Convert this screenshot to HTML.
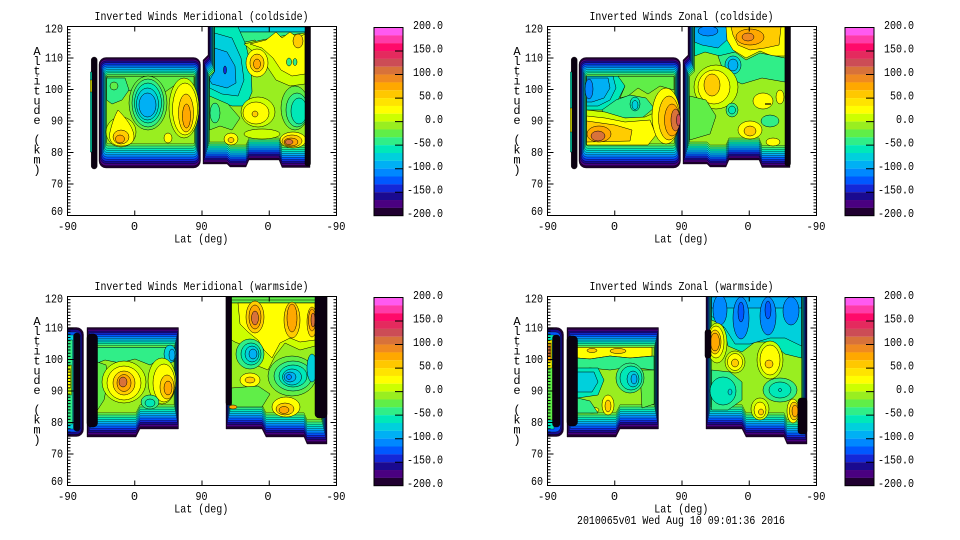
<!DOCTYPE html>
<html><head><meta charset="utf-8"><style>
html,body{margin:0;padding:0;background:#fff;}
svg{display:block;}
.t{font-family:"Liberation Mono",monospace;font-size:12px;fill:#000;}
.st *{stroke:#000;stroke-width:.35;}
.c *{stroke:#000;stroke-width:.5;}
.k0{fill:#200030}.k1{fill:#4a0080}.k2{fill:#1a0a90}.k3{fill:#1428d8}.k4{fill:#0058ff}.k5{fill:#0088ff}.k6{fill:#00b0f4}.k7{fill:#00d0dc}.k8{fill:#00e8b8}.k9{fill:#30ee88}.k10{fill:#60ee48}.k11{fill:#99ee20}.k12{fill:#ccff00}.k13{fill:#ffff00}.k14{fill:#ffcc00}.k15{fill:#ffa800}.k16{fill:#f08a20}.k17{fill:#d8723a}.k18{fill:#cc4c56}.kb{fill:#0a0010}
</style></head><body>
<svg width="960" height="540" viewBox="0 0 960 540" xmlns="http://www.w3.org/2000/svg">
<defs>
<clipPath id="pc"><rect x="67.5" y="26.5" width="269" height="189"/></clipPath>
<g id="sB1" class="st">
<rect class="k0" x="99" y="57.5" width="101.5" height="110.5" rx="7"/>
<rect class="k1" x="99.7" y="59.2" width="100.25" height="106.6" rx="6.5"/>
<rect class="k2" x="100.4" y="60.9" width="99" height="102.7" rx="6"/>
<rect class="k3" x="101.1" y="62.6" width="97.75" height="98.8" rx="5.5"/>
<rect class="k4" x="101.8" y="64.3" width="96.5" height="94.9" rx="5"/>
<rect class="k5" x="102.5" y="66" width="95.25" height="91" rx="4.5"/>
<rect class="k6" x="103.2" y="67.7" width="94" height="87.1" rx="4"/>
<rect class="k7" x="103.9" y="69.4" width="92.75" height="83.2" rx="3.5"/>
<rect class="k8" x="104.6" y="71.1" width="91.5" height="79.3" rx="3"/>
<rect class="k9" x="105.3" y="72.8" width="90.25" height="75.4" rx="2.5"/>
<rect class="k10" x="106" y="74.5" width="89" height="71.5" rx="2"/>
<rect class="k11" x="106.7" y="76.2" width="87.75" height="67.6" rx="1.7"/>
</g>
<g id="sC1" class="st">
<polygon class="k0" points="208,-10 310,-10 310,167.5 282,167.5 279,160 249,160 246,167 230,167 227,164 203,164 203,60 208,55"/>
<polygon class="k1" points="208.6,-10 309.7,-10 309.7,165.5 282,165.5 279,158 249,158 246,165 230,165 227,162 203.6,162 203.6,61.5 208.6,56.5"/>
<polygon class="k2" points="209.2,-10 309.4,-10 309.4,163.5 282,163.5 279,156 249,156 246,163 230,163 227,160 204.2,160 204.2,63 209.2,58"/>
<polygon class="k3" points="209.8,-10 309.1,-10 309.1,161.5 282,161.5 279,154 249,154 246,161 230,161 227,158 204.8,158 204.8,64.5 209.8,59.5"/>
<polygon class="k4" points="210.4,-10 308.8,-10 308.8,159.5 282,159.5 279,152 249,152 246,159 230,159 227,156 205.4,156 205.4,66 210.4,61"/>
<polygon class="k5" points="211,-10 308.5,-10 308.5,157.5 282,157.5 279,150 249,150 246,157 230,157 227,154 206,154 206,67.5 211,62.5"/>
<polygon class="k6" points="211.6,-10 308.2,-10 308.2,155.5 282,155.5 279,148 249,148 246,155 230,155 227,152 206.6,152 206.6,69 211.6,64"/>
<polygon class="k7" points="212.2,-10 307.9,-10 307.9,153.5 282,153.5 279,146 249,146 246,153 230,153 227,150 207.2,150 207.2,70.5 212.2,65.5"/>
<polygon class="k8" points="212.8,-10 307.6,-10 307.6,151.5 282,151.5 279,144 249,144 246,151 230,151 227,148 207.8,148 207.8,72 212.8,67"/>
<polygon class="k9" points="213.4,-10 307.3,-10 307.3,149.5 282,149.5 279,142 249,142 246,149 230,149 227,146 208.4,146 208.4,73.5 213.4,68.5"/>
<polygon class="k10" points="214,-10 307,-10 307,147.5 282,147.5 279,140 249,140 246,147 230,147 227,144 209,144 209,75 214,70"/>
<polygon class="k11" points="214.6,-10 306.7,-10 306.7,145.5 282,145.5 279,138 249,138 246,145 230,145 227,142 209.6,142 209.6,76.5 214.6,71.5"/>
</g>
<g id="sB3" class="st">
<polygon class="k0" points="87,57.5 178.5,57.5 178.5,159 140,159 136,167 87,167"/>
<polygon class="k1" points="87.8,59.3 178.1,59.3 178.1,156.8 140,156.8 136,164.8 87.8,164.8"/>
<polygon class="k2" points="88.6,61.1 177.7,61.1 177.7,154.6 140,154.6 136,162.6 88.6,162.6"/>
<polygon class="k3" points="89.4,62.9 177.3,62.9 177.3,152.4 140,152.4 136,160.4 89.4,160.4"/>
<polygon class="k4" points="90.2,64.7 176.9,64.7 176.9,150.2 140,150.2 136,158.2 90.2,158.2"/>
<polygon class="k5" points="91,66.5 176.5,66.5 176.5,148 140,148 136,156 91,156"/>
<polygon class="k6" points="91.8,68.3 176.1,68.3 176.1,145.8 140,145.8 136,153.8 91.8,153.8"/>
<polygon class="k7" points="92.6,70.1 175.7,70.1 175.7,143.6 140,143.6 136,151.6 92.6,151.6"/>
<polygon class="k8" points="93.4,71.9 175.3,71.9 175.3,141.4 140,141.4 136,149.4 93.4,149.4"/>
<polygon class="k9" points="94.2,73.7 174.9,73.7 174.9,139.2 140,139.2 136,147.2 94.2,147.2"/>
<polygon class="k10" points="95,75.5 174.5,75.5 174.5,137 140,137 136,145 95,145"/>
<polygon class="k11" points="95.8,77.3 174.1,77.3 174.1,134.8 140,134.8 136,142.8 95.8,142.8"/>
</g>
<g id="sC3" class="st">
<polygon class="k0" points="226,-10 327,-10 327,174 307,174 304,167 266,167 262,159 226,159"/>
<polygon class="k1" points="226.5,-10 326.5,-10 326.5,171.8 307,171.8 304,164.8 266,164.8 262,156.8 226.5,156.8"/>
<polygon class="k2" points="227,-10 326,-10 326,169.6 307,169.6 304,162.6 266,162.6 262,154.6 227,154.6"/>
<polygon class="k3" points="227.5,-10 325.5,-10 325.5,167.4 307,167.4 304,160.4 266,160.4 262,152.4 227.5,152.4"/>
<polygon class="k4" points="228,-10 325,-10 325,165.2 307,165.2 304,158.2 266,158.2 262,150.2 228,150.2"/>
<polygon class="k5" points="228.5,-10 324.5,-10 324.5,163 307,163 304,156 266,156 262,148 228.5,148"/>
<polygon class="k6" points="229,-10 324,-10 324,160.8 307,160.8 304,153.8 266,153.8 262,145.8 229,145.8"/>
<polygon class="k7" points="229.5,-10 323.5,-10 323.5,158.6 307,158.6 304,151.6 266,151.6 262,143.6 229.5,143.6"/>
<polygon class="k8" points="230,-10 323,-10 323,156.4 307,156.4 304,149.4 266,149.4 262,141.4 230,141.4"/>
<polygon class="k9" points="230.5,-10 322.5,-10 322.5,154.2 307,154.2 304,147.2 266,147.2 262,139.2 230.5,139.2"/>
<polygon class="k10" points="231,-10 322,-10 322,152 307,152 304,145 266,145 262,137 231,137"/>
<polygon class="k11" points="231.5,-10 321.5,-10 321.5,149.8 307,149.8 304,142.8 266,142.8 262,134.8 231.5,134.8"/>
</g>
<g id="ax">
<rect x="67.5" y="26.5" width="269" height="189" fill="none" stroke="#000"/>
<path d="M67.5,26.5h6M67.5,58h6M67.5,89.5h6M67.5,121h6M67.5,152.5h6M67.5,184h6M67.5,215.5h6M336.5,26.5h-6M336.5,58h-6M336.5,89.5h-6M336.5,121h-6M336.5,152.5h-6M336.5,184h-6M336.5,215.5h-6M134.75,215.5v-5M202,215.5v-5M269.25,215.5v-5M134.75,26.5v5M202,26.5v5M269.25,26.5v5" stroke="#000" fill="none"/>
<line x1="69" y1="26" x2="69" y2="216" stroke="#000" stroke-width="3" stroke-dasharray="1 2.15"/>
<line x1="335" y1="26" x2="335" y2="216" stroke="#000" stroke-width="3" stroke-dasharray="1 2.15"/>
</g>
<g id="cb">
<rect x="0" y="0" width="29" height="7.9" fill="#ff5af0"/>
<rect x="0" y="7.84" width="29" height="7.9" fill="#ff3aa8"/>
<rect x="0" y="15.68" width="29" height="7.9" fill="#ff0a6a"/>
<rect x="0" y="23.53" width="29" height="7.9" fill="#e42a5e"/>
<rect x="0" y="31.37" width="29" height="7.9" fill="#cc4c56"/>
<rect x="0" y="39.21" width="29" height="7.9" fill="#d8723a"/>
<rect x="0" y="47.05" width="29" height="7.9" fill="#f08a20"/>
<rect x="0" y="54.89" width="29" height="7.9" fill="#ffa800"/>
<rect x="0" y="62.74" width="29" height="7.9" fill="#ffc800"/>
<rect x="0" y="70.58" width="29" height="7.9" fill="#ffe400"/>
<rect x="0" y="78.42" width="29" height="7.9" fill="#ffff00"/>
<rect x="0" y="86.26" width="29" height="7.9" fill="#ccff00"/>
<rect x="0" y="94.1" width="29" height="7.9" fill="#99ee20"/>
<rect x="0" y="101.95" width="29" height="7.9" fill="#60ee48"/>
<rect x="0" y="109.79" width="29" height="7.9" fill="#30ee88"/>
<rect x="0" y="117.63" width="29" height="7.9" fill="#00e8b8"/>
<rect x="0" y="125.47" width="29" height="7.9" fill="#00d0dc"/>
<rect x="0" y="133.31" width="29" height="7.9" fill="#00b0f4"/>
<rect x="0" y="141.16" width="29" height="7.9" fill="#0088ff"/>
<rect x="0" y="149" width="29" height="7.9" fill="#0058ff"/>
<rect x="0" y="156.84" width="29" height="7.9" fill="#1428d8"/>
<rect x="0" y="164.68" width="29" height="7.9" fill="#1a0a90"/>
<rect x="0" y="172.52" width="29" height="7.9" fill="#4a0080"/>
<rect x="0" y="180.37" width="29" height="7.83" fill="#200030"/>
<rect x="0" y="0" width="29" height="188.2" fill="none" stroke="#000"/>
<path d="M21,23.5h8M21,47.05h8M21,70.6h8M21,94.1h8M21,117.6h8M21,141.2h8M21,164.7h8" stroke="#000"/>
</g>
</defs>

<!-- ============ PANEL 1 ============ -->
<g>
<g clip-path="url(#pc)">
<g class="st"><rect x="91.2" y="57" width="6" height="112" rx="3" class="kb"/><rect class="k8" x="90.3" y="72" width="1.6" height="80"/><rect class="k13" x="90.3" y="80" width="1.6" height="12"/></g>
<use href="#sB1"/>
<g class="c">
<path class="k10" d="M107,76.2 L194,76.2 L194,88 L175,85 L165,92 L150,80 L135,90 L120,92 L107,95Z"/>
<path class="k9" d="M106.7,78 L125,78 L129,90 L122,100 L112,104 L106.7,100Z"/>
<ellipse class="k10" cx="114" cy="86" rx="4" ry="4"/>
<ellipse class="k10" cx="148" cy="103" rx="19" ry="27"/>
<ellipse class="k9" cx="148" cy="103" rx="16" ry="24"/>
<ellipse class="k8" cx="148" cy="103" rx="13.5" ry="20"/>
<ellipse class="k7" cx="147.5" cy="104" rx="11" ry="16"/>
<ellipse class="k6" cx="147.5" cy="105" rx="8.5" ry="12"/>
<ellipse class="k12" cx="184" cy="108" rx="15" ry="30"/>
<ellipse class="k13" cx="185" cy="109" rx="12.5" ry="26"/>
<ellipse class="k14" cx="186" cy="113" rx="7.5" ry="19"/>
<ellipse class="k15" cx="186.5" cy="116" rx="4" ry="12"/>
<ellipse class="k12" cx="121" cy="132" rx="15" ry="15"/>
<path class="k13" d="M118,110 C125,117 134,128 134,137 C134,144 127,146 121,146 C113,146 108,141 110,132 C112,123 115,115 118,110Z"/>
<ellipse class="k14" cx="121" cy="137" rx="8" ry="7"/>
<ellipse class="k15" cx="120" cy="139" rx="4.5" ry="4"/>
<ellipse class="k13" cx="168" cy="138" rx="4" ry="5"/>
</g>
<use href="#sC1"/>
<g class="c">
<rect class="k7" x="214.6" y="27" width="91" height="5"/>
<path class="k9" d="M214.6,32 L305,32 L305,38 L295,40 L290,50 L284,40 L270,42 L262,50 L255,40 L245,42 L240,50 L230,45 L214.6,45Z"/>
<path class="k8" d="M214.6,27 L238,27 L246,45 L251,68 L252,92 L246,106 L232,106 L216,100 L209.6,96 L209.6,76.5 L214.6,71.5Z"/>
<path class="k7" d="M214.6,33 L232,38 L241,58 L244,80 L238,96 L222,94 L209.6,88 L209.6,76.5 L214.6,71.5Z"/>
<path class="k6" d="M214.6,48 L227,52 L235,66 L236,83 L227,88 L212,84 L209.6,80 L214.6,71.5Z"/>
<ellipse class="k3" cx="225" cy="70" rx="1.5" ry="4"/>
<path class="k12" d="M244,44 L262,40 L282,36 L305,33 L305,84 L290,86 L276,80 L268,68 L256,54Z"/>
<path class="k13" d="M250,44 L266,40 L276,32 L282,38 L290,32 L298,38 L305,34 L305,74 L292,76 L281,70 L273,58 L262,48Z"/>
<ellipse class="k13" cx="257" cy="63" rx="11" ry="14"/>
<ellipse class="k14" cx="257" cy="63" rx="7" ry="9"/>
<ellipse class="k15" cx="257" cy="64" rx="3.5" ry="5"/>
<ellipse class="k14" cx="298" cy="41" rx="5" ry="7"/>
<ellipse class="k9" cx="289" cy="62" rx="2.5" ry="4"/>
<ellipse class="k9" cx="295" cy="62" rx="2" ry="3.5"/>
<ellipse class="k10" cx="295" cy="108" rx="14" ry="22"/>
<ellipse class="k9" cx="297" cy="110" rx="11" ry="17"/>
<ellipse class="k8" cx="299" cy="111" rx="8" ry="13"/>
<ellipse class="k12" cx="258" cy="112" rx="17" ry="15"/>
<ellipse class="k13" cx="256" cy="113" rx="13" ry="11"/>
<ellipse class="k14" cx="255" cy="114" rx="3" ry="3"/>
<path class="k10" d="M209.6,96 L228,104 L240,118 L232,130 L220,126 L209.6,130Z"/>
<ellipse class="k9" cx="215" cy="113" rx="5" ry="10"/>
<ellipse class="k12" cx="262" cy="134" rx="18" ry="5"/>
<ellipse class="k13" cx="231" cy="139" rx="7" ry="6"/>
<ellipse class="k14" cx="231" cy="140" rx="3" ry="2.5"/>
<ellipse class="k13" cx="293" cy="140" rx="13" ry="8"/>
<ellipse class="k14" cx="292" cy="141" rx="10" ry="6"/>
<ellipse class="k15" cx="291" cy="142" rx="7" ry="4"/>
<ellipse class="k17" cx="289" cy="142" rx="4" ry="2.5"/>
<rect class="kb" x="305" y="20" width="5.5" height="146" rx="2.5"/>
</g>
</g>
<use href="#ax"/>
<use href="#cb" x="374" y="27.5"/>
<text class="t" x="201.5" y="20" text-anchor="middle" textLength="214" lengthAdjust="spacingAndGlyphs">Inverted Winds Meridional (coldside)</text>
<text class="t" x="63" y="32.7" text-anchor="end" textLength="18" lengthAdjust="spacingAndGlyphs">120</text>
<text class="t" x="63" y="61.7" text-anchor="end" textLength="18" lengthAdjust="spacingAndGlyphs">110</text>
<text class="t" x="63" y="93" text-anchor="end" textLength="18" lengthAdjust="spacingAndGlyphs">100</text>
<text class="t" x="63" y="124.5" text-anchor="end" textLength="12" lengthAdjust="spacingAndGlyphs">90</text>
<text class="t" x="63" y="156" text-anchor="end" textLength="12" lengthAdjust="spacingAndGlyphs">80</text>
<text class="t" x="63" y="187.3" text-anchor="end" textLength="12" lengthAdjust="spacingAndGlyphs">70</text>
<text class="t" x="63" y="215" text-anchor="end" textLength="12" lengthAdjust="spacingAndGlyphs">60</text>
<text class="t" x="67.5" y="230" text-anchor="middle" textLength="19" lengthAdjust="spacingAndGlyphs">-90</text>
<text class="t" x="134.5" y="230" text-anchor="middle">0</text>
<text class="t" x="201.5" y="230" text-anchor="middle" textLength="12" lengthAdjust="spacingAndGlyphs">90</text>
<text class="t" x="268" y="230" text-anchor="middle">0</text>
<text class="t" x="336" y="230" text-anchor="middle" textLength="19" lengthAdjust="spacingAndGlyphs">-90</text>
<text class="t" x="201.3" y="242.5" text-anchor="middle" textLength="54" lengthAdjust="spacingAndGlyphs">Lat (deg)</text>
<text class="t" x="37" y="55" text-anchor="middle">A</text><text class="t" x="37" y="64.9" text-anchor="middle">l</text><text class="t" x="37" y="74.7" text-anchor="middle">t</text><text class="t" x="37" y="84.6" text-anchor="middle">i</text><text class="t" x="37" y="94.4" text-anchor="middle">t</text><text class="t" x="37" y="104.3" text-anchor="middle">u</text><text class="t" x="37" y="114.2" text-anchor="middle">d</text><text class="t" x="37" y="124" text-anchor="middle">e</text><text class="t" x="37" y="143.7" text-anchor="middle">(</text><text class="t" x="37" y="153.6" text-anchor="middle">k</text><text class="t" x="37" y="163.5" text-anchor="middle">m</text><text class="t" x="37" y="173.3" text-anchor="middle">)</text>
<text class="t" x="443" y="29" text-anchor="end" textLength="30" lengthAdjust="spacingAndGlyphs">200.0</text>
<text class="t" x="443" y="52.5" text-anchor="end" textLength="30" lengthAdjust="spacingAndGlyphs">150.0</text>
<text class="t" x="443" y="76" text-anchor="end" textLength="30" lengthAdjust="spacingAndGlyphs">100.0</text>
<text class="t" x="443" y="99.6" text-anchor="end" textLength="24" lengthAdjust="spacingAndGlyphs">50.0</text>
<text class="t" x="443" y="123.1" text-anchor="end" textLength="18" lengthAdjust="spacingAndGlyphs">0.0</text>
<text class="t" x="443" y="146.6" text-anchor="end" textLength="30" lengthAdjust="spacingAndGlyphs">-50.0</text>
<text class="t" x="443" y="170.2" text-anchor="end" textLength="36" lengthAdjust="spacingAndGlyphs">-100.0</text>
<text class="t" x="443" y="193.7" text-anchor="end" textLength="36" lengthAdjust="spacingAndGlyphs">-150.0</text>
<text class="t" x="443" y="217.2" text-anchor="end" textLength="36" lengthAdjust="spacingAndGlyphs">-200.0</text>
</g>

<!-- ============ PANEL 2 ============ -->
<g transform="translate(480,0)">
<g clip-path="url(#pc)">
<g class="st"><rect x="91.2" y="57" width="6" height="112" rx="3" class="kb"/><rect class="k8" x="90.3" y="72" width="1.6" height="80"/><rect class="k13" x="90.3" y="108" width="1.6" height="24"/></g>
<use href="#sB1"/>
<g class="c">
<path class="k8" d="M106.7,76.2 L140,76.2 L145,86 L138,100 L125,110 L106.7,110Z"/>
<path class="k7" d="M106.7,76.2 L133,76.2 L136,88 L130,100 L118,106 L106.7,106Z"/>
<path class="k6" d="M106.7,78 L128,78 L130,88 L124,98 L112,102 L106.7,102Z"/>
<ellipse class="k5" cx="109" cy="89" rx="4" ry="10"/>
<path class="k10" d="M138,76.2 L194,76.2 L194,90 L180,86 L168,94 L158,88 L148,96 L140,98 L145,86Z"/>
<path class="k9" d="M122,110 L136,100 L150,95 L166,98 L174,108 L162,118 L142,118 L126,118Z"/>
<ellipse class="k8" cx="155" cy="104" rx="5" ry="7"/>
<ellipse class="k7" cx="155" cy="105" rx="3" ry="4.5"/>
<path class="k12" d="M106.7,110 L125,112 L145,118 L165,117 L176,112 L178,125 L106.7,125Z"/>
<path class="k13" d="M106.7,116 L125,118 L145,122 L170,120 L176,135 L168,145 L106.7,145Z"/>
<path class="k14" d="M106.7,121 L135,125 L152,130 L150,141 L106.7,142Z"/>
<ellipse class="k15" cx="119" cy="134" rx="12" ry="8"/>
<ellipse class="k17" cx="118" cy="136" rx="7" ry="5"/>
<ellipse class="k13" cx="186" cy="116" rx="14" ry="28"/>
<ellipse class="k14" cx="189" cy="118" rx="10.5" ry="22"/>
<ellipse class="k15" cx="192" cy="120" rx="7.5" ry="16"/>
<ellipse class="k17" cx="195.5" cy="120" rx="4.5" ry="11"/>
<ellipse class="k18" cx="198.5" cy="120" rx="2" ry="6"/>
</g>
<use href="#sC1"/>
<g class="c">
<path class="k8" d="M214.6,27 L252,27 L262,40 L255,52 L240,56 L225,52 L214.6,56Z"/>
<path class="k6" d="M214.6,27 L246,27 L249,38 L238,48 L222,45 L214.6,42Z"/>
<ellipse class="k5" cx="228" cy="31" rx="10" ry="5"/>
<path class="k13" d="M246,27 L305,27 L305,56 L292,56 L280,51 L266,58 L253,50 L247,40Z"/>
<path class="k14" d="M251,27 L301,27 L299,45 L285,48 L270,50 L258,45 L253,35Z"/>
<ellipse class="k15" cx="270" cy="37" rx="14" ry="8"/>
<ellipse class="k16" cx="268" cy="37" rx="6" ry="4"/>
<path class="k9" d="M238,56 L255,52 L266,60 L280,53 L305,58 L305,82 L282,78 L262,84 L245,76Z"/>
<ellipse class="k7" cx="253" cy="65" rx="8" ry="9"/>
<ellipse class="k6" cx="253" cy="65" rx="5" ry="6"/>
<ellipse class="k12" cx="236" cy="87" rx="22" ry="22"/>
<ellipse class="k13" cx="234" cy="87" rx="16" ry="17"/>
<ellipse class="k14" cx="232" cy="85" rx="8" ry="11"/>
<ellipse class="k9" cx="252" cy="110" rx="6" ry="7"/>
<ellipse class="k8" cx="252" cy="110" rx="3.5" ry="4"/>
<ellipse class="k13" cx="283" cy="101" rx="10" ry="8"/>
<ellipse class="k13" cx="300" cy="97" rx="4" ry="7"/>
<path d="M285,104 h6" fill="none" style="stroke-width:1.2"/>
<path class="k10" d="M209.6,96 L226,100 L236,116 L230,134 L209.6,140Z"/>
<ellipse class="k9" cx="290" cy="121" rx="9" ry="6"/>
<ellipse class="k13" cx="270" cy="130" rx="12" ry="9"/>
<ellipse class="k14" cx="270" cy="131" rx="6" ry="5"/>
<ellipse class="k13" cx="293" cy="142" rx="7" ry="4"/>
<rect class="kb" x="305" y="20" width="5.5" height="146" rx="2.5"/>
</g>
</g>
<use href="#ax"/>
<use href="#cb" x="365" y="27.5"/>
<text class="t" x="201.5" y="20" text-anchor="middle" textLength="184" lengthAdjust="spacingAndGlyphs">Inverted Winds Zonal (coldside)</text>
<text class="t" x="63" y="32.7" text-anchor="end" textLength="18" lengthAdjust="spacingAndGlyphs">120</text>
<text class="t" x="63" y="61.7" text-anchor="end" textLength="18" lengthAdjust="spacingAndGlyphs">110</text>
<text class="t" x="63" y="93" text-anchor="end" textLength="18" lengthAdjust="spacingAndGlyphs">100</text>
<text class="t" x="63" y="124.5" text-anchor="end" textLength="12" lengthAdjust="spacingAndGlyphs">90</text>
<text class="t" x="63" y="156" text-anchor="end" textLength="12" lengthAdjust="spacingAndGlyphs">80</text>
<text class="t" x="63" y="187.3" text-anchor="end" textLength="12" lengthAdjust="spacingAndGlyphs">70</text>
<text class="t" x="63" y="215" text-anchor="end" textLength="12" lengthAdjust="spacingAndGlyphs">60</text>
<text class="t" x="67.5" y="230" text-anchor="middle" textLength="19" lengthAdjust="spacingAndGlyphs">-90</text>
<text class="t" x="134.5" y="230" text-anchor="middle">0</text>
<text class="t" x="201.5" y="230" text-anchor="middle" textLength="12" lengthAdjust="spacingAndGlyphs">90</text>
<text class="t" x="268" y="230" text-anchor="middle">0</text>
<text class="t" x="336" y="230" text-anchor="middle" textLength="19" lengthAdjust="spacingAndGlyphs">-90</text>
<text class="t" x="201.3" y="242.5" text-anchor="middle" textLength="54" lengthAdjust="spacingAndGlyphs">Lat (deg)</text>
<text class="t" x="37" y="55" text-anchor="middle">A</text><text class="t" x="37" y="64.9" text-anchor="middle">l</text><text class="t" x="37" y="74.7" text-anchor="middle">t</text><text class="t" x="37" y="84.6" text-anchor="middle">i</text><text class="t" x="37" y="94.4" text-anchor="middle">t</text><text class="t" x="37" y="104.3" text-anchor="middle">u</text><text class="t" x="37" y="114.2" text-anchor="middle">d</text><text class="t" x="37" y="124" text-anchor="middle">e</text><text class="t" x="37" y="143.7" text-anchor="middle">(</text><text class="t" x="37" y="153.6" text-anchor="middle">k</text><text class="t" x="37" y="163.5" text-anchor="middle">m</text><text class="t" x="37" y="173.3" text-anchor="middle">)</text>
<text class="t" x="434" y="29" text-anchor="end" textLength="30" lengthAdjust="spacingAndGlyphs">200.0</text>
<text class="t" x="434" y="52.5" text-anchor="end" textLength="30" lengthAdjust="spacingAndGlyphs">150.0</text>
<text class="t" x="434" y="76" text-anchor="end" textLength="30" lengthAdjust="spacingAndGlyphs">100.0</text>
<text class="t" x="434" y="99.6" text-anchor="end" textLength="24" lengthAdjust="spacingAndGlyphs">50.0</text>
<text class="t" x="434" y="123.1" text-anchor="end" textLength="18" lengthAdjust="spacingAndGlyphs">0.0</text>
<text class="t" x="434" y="146.6" text-anchor="end" textLength="30" lengthAdjust="spacingAndGlyphs">-50.0</text>
<text class="t" x="434" y="170.2" text-anchor="end" textLength="36" lengthAdjust="spacingAndGlyphs">-100.0</text>
<text class="t" x="434" y="193.7" text-anchor="end" textLength="36" lengthAdjust="spacingAndGlyphs">-150.0</text>
<text class="t" x="434" y="217.2" text-anchor="end" textLength="36" lengthAdjust="spacingAndGlyphs">-200.0</text>
</g>

<!-- ============ PANEL 3 ============ -->
<g transform="translate(0,270)">
<g clip-path="url(#pc)">
<g class="st">
<rect class="k0" x="60" y="57.5" width="23.5" height="109" rx="7"/>
<rect class="k2" x="60" y="59.5" width="22" height="105" rx="6"/>
<rect class="k4" x="60" y="62" width="20.5" height="100" rx="5"/>
<rect class="k7" x="60" y="65" width="14" height="94"/>
<rect class="k9" x="60" y="70" width="12.5" height="84"/>
<rect class="k12" x="60" y="95" width="11.5" height="30"/>
<rect class="k13" x="60" y="100" width="10.5" height="18"/>
<rect class="kb" x="73.5" y="63" width="6.5" height="98" rx="3"/>
</g>
<use href="#sB3"/>
<g class="c">
<rect class="kb" x="87" y="64" width="10.5" height="93" rx="4"/>
<path class="k9" d="M97.5,77.3 L174.1,77.3 L174.1,92 L160,89 L150,95 L135,89 L120,93 L105,90 L97.5,93Z"/>
<ellipse class="k7" cx="170" cy="84" rx="6" ry="9"/>
<ellipse class="k6" cx="172" cy="85" rx="3" ry="6"/>
<path class="k10" d="M97.5,92 L106,95 L108,110 L104,130 L97.5,140Z"/>
<ellipse class="k12" cx="124" cy="112" rx="22" ry="21"/>
<ellipse class="k13" cx="124" cy="113" rx="17" ry="17"/>
<ellipse class="k14" cx="124" cy="113" rx="11" ry="12"/>
<ellipse class="k15" cx="124" cy="113" rx="7" ry="8.5"/>
<ellipse class="k17" cx="123" cy="112" rx="4" ry="5"/>
<ellipse class="k12" cx="162" cy="111" rx="14" ry="23"/>
<ellipse class="k13" cx="164" cy="113" rx="11" ry="19"/>
<ellipse class="k14" cx="167" cy="117" rx="7" ry="12"/>
<ellipse class="k15" cx="168" cy="118" rx="4" ry="7"/>
<ellipse class="k9" cx="150" cy="132" rx="9" ry="7"/>
<ellipse class="k8" cx="150" cy="133" rx="5" ry="4"/>
</g>
<use href="#sC3"/>
<g class="c">
<rect class="k10" x="231.5" y="27" width="84" height="6"/>
<path d="M231,30 H315" fill="none"/>
<path class="k12" d="M231.5,33 L315,33 L315,76 L300,80 L285,73 L275,86 L268,100 L258,96 L245,76 L235,72 L231.5,70Z"/>
<path class="k13" d="M238,33 L315,33 L315,70 L300,72 L290,68 L280,73 L272,88 L264,80 L258,70 L248,62 L240,54Z"/>
<ellipse class="k14" cx="255" cy="47" rx="9" ry="16"/>
<ellipse class="k15" cx="255" cy="47" rx="6" ry="12"/>
<ellipse class="k17" cx="255" cy="48" rx="3.5" ry="7"/>
<ellipse class="k14" cx="292" cy="50" rx="8" ry="18"/>
<ellipse class="k15" cx="292" cy="48" rx="5" ry="14"/>
<ellipse class="k14" cx="312" cy="52" rx="5" ry="15"/>
<ellipse class="k15" cx="312" cy="50" rx="3.5" ry="11"/>
<ellipse class="k17" cx="313" cy="50" rx="2" ry="7"/>
<ellipse class="k9" cx="250" cy="84" rx="14" ry="15"/>
<ellipse class="k8" cx="251" cy="84" rx="10" ry="11"/>
<ellipse class="k7" cx="252" cy="84" rx="7" ry="8"/>
<ellipse class="k6" cx="253" cy="84" rx="4" ry="5"/>
<ellipse class="k13" cx="250" cy="110" rx="10" ry="7"/>
<ellipse class="k14" cx="250" cy="110" rx="5" ry="3"/>
<ellipse class="k10" cx="292" cy="106" rx="24" ry="20"/>
<ellipse class="k9" cx="293" cy="106" rx="19" ry="15"/>
<ellipse class="k8" cx="293" cy="106" rx="14" ry="11"/>
<ellipse class="k7" cx="292" cy="107" rx="9.5" ry="8"/>
<ellipse class="k6" cx="290" cy="107" rx="6" ry="5"/>
<ellipse class="k5" cx="289" cy="107" rx="2.5" ry="2.5"/>
<ellipse class="k7" cx="312" cy="98" rx="5" ry="14"/>
<path class="k10" d="M231.5,118 L258,116 L270,124 L262,137 L231.5,137Z"/>
<ellipse class="k13" cx="286" cy="137" rx="14" ry="10"/>
<ellipse class="k14" cx="285" cy="139" rx="9" ry="6"/>
<ellipse class="k15" cx="284" cy="140" rx="5" ry="3.5"/>
<rect class="kb" x="226" y="20" width="5.5" height="115" rx="2"/>
<ellipse class="k15" cx="233" cy="137" rx="4" ry="2"/>
<rect class="kb" x="315" y="20" width="12" height="128" rx="4"/>
</g>
</g>
<use href="#ax"/>
<use href="#cb" x="374" y="27.5"/>
<text class="t" x="201.5" y="20" text-anchor="middle" textLength="214" lengthAdjust="spacingAndGlyphs">Inverted Winds Meridional (warmside)</text>
<text class="t" x="63" y="32.7" text-anchor="end" textLength="18" lengthAdjust="spacingAndGlyphs">120</text>
<text class="t" x="63" y="61.7" text-anchor="end" textLength="18" lengthAdjust="spacingAndGlyphs">110</text>
<text class="t" x="63" y="93" text-anchor="end" textLength="18" lengthAdjust="spacingAndGlyphs">100</text>
<text class="t" x="63" y="124.5" text-anchor="end" textLength="12" lengthAdjust="spacingAndGlyphs">90</text>
<text class="t" x="63" y="156" text-anchor="end" textLength="12" lengthAdjust="spacingAndGlyphs">80</text>
<text class="t" x="63" y="187.3" text-anchor="end" textLength="12" lengthAdjust="spacingAndGlyphs">70</text>
<text class="t" x="63" y="215" text-anchor="end" textLength="12" lengthAdjust="spacingAndGlyphs">60</text>
<text class="t" x="67.5" y="230" text-anchor="middle" textLength="19" lengthAdjust="spacingAndGlyphs">-90</text>
<text class="t" x="134.5" y="230" text-anchor="middle">0</text>
<text class="t" x="201.5" y="230" text-anchor="middle" textLength="12" lengthAdjust="spacingAndGlyphs">90</text>
<text class="t" x="268" y="230" text-anchor="middle">0</text>
<text class="t" x="336" y="230" text-anchor="middle" textLength="19" lengthAdjust="spacingAndGlyphs">-90</text>
<text class="t" x="201.3" y="242.5" text-anchor="middle" textLength="54" lengthAdjust="spacingAndGlyphs">Lat (deg)</text>
<text class="t" x="37" y="55" text-anchor="middle">A</text><text class="t" x="37" y="64.9" text-anchor="middle">l</text><text class="t" x="37" y="74.7" text-anchor="middle">t</text><text class="t" x="37" y="84.6" text-anchor="middle">i</text><text class="t" x="37" y="94.4" text-anchor="middle">t</text><text class="t" x="37" y="104.3" text-anchor="middle">u</text><text class="t" x="37" y="114.2" text-anchor="middle">d</text><text class="t" x="37" y="124" text-anchor="middle">e</text><text class="t" x="37" y="143.7" text-anchor="middle">(</text><text class="t" x="37" y="153.6" text-anchor="middle">k</text><text class="t" x="37" y="163.5" text-anchor="middle">m</text><text class="t" x="37" y="173.3" text-anchor="middle">)</text>
<text class="t" x="443" y="29" text-anchor="end" textLength="30" lengthAdjust="spacingAndGlyphs">200.0</text>
<text class="t" x="443" y="52.5" text-anchor="end" textLength="30" lengthAdjust="spacingAndGlyphs">150.0</text>
<text class="t" x="443" y="76" text-anchor="end" textLength="30" lengthAdjust="spacingAndGlyphs">100.0</text>
<text class="t" x="443" y="99.6" text-anchor="end" textLength="24" lengthAdjust="spacingAndGlyphs">50.0</text>
<text class="t" x="443" y="123.1" text-anchor="end" textLength="18" lengthAdjust="spacingAndGlyphs">0.0</text>
<text class="t" x="443" y="146.6" text-anchor="end" textLength="30" lengthAdjust="spacingAndGlyphs">-50.0</text>
<text class="t" x="443" y="170.2" text-anchor="end" textLength="36" lengthAdjust="spacingAndGlyphs">-100.0</text>
<text class="t" x="443" y="193.7" text-anchor="end" textLength="36" lengthAdjust="spacingAndGlyphs">-150.0</text>
<text class="t" x="443" y="217.2" text-anchor="end" textLength="36" lengthAdjust="spacingAndGlyphs">-200.0</text>
</g>

<!-- ============ PANEL 4 ============ -->
<g transform="translate(480,270)">
<g clip-path="url(#pc)">
<g class="st">
<rect class="k0" x="60" y="57.5" width="23.5" height="109" rx="7"/>
<rect class="k2" x="60" y="59.5" width="22" height="105" rx="6"/>
<rect class="k4" x="60" y="62" width="20.5" height="100" rx="5"/>
<rect class="k8" x="60" y="65" width="14" height="94"/>
<rect class="k10" x="60" y="95" width="12.5" height="55"/>
<rect class="k13" x="60" y="70" width="12" height="28"/>
<rect class="k15" x="60" y="73" width="11" height="18"/>
<rect class="k17" x="60" y="76" width="10" height="10"/>
<rect class="kb" x="72.5" y="65" width="7.5" height="92" rx="3"/>
</g>
<use href="#sB3"/>
<g class="c">
<rect class="kb" x="87" y="66" width="10.5" height="90" rx="4"/>
<path class="k13" d="M97.5,77.3 L172,77.3 L172,86 L150,88 L130,86 L110,89 L97.5,88Z"/>
<ellipse class="k14" cx="138" cy="81" rx="8" ry="2.5"/>
<ellipse class="k14" cx="112" cy="80.5" rx="5" ry="2"/>
<path class="k9" d="M97.5,88 L110,89 L130,86 L150,88 L174,86 L174,100 L150,97 L130,100 L110,98 L97.5,100Z"/>
<path class="k8" d="M97.5,98 L118,98 L124,110 L118,125 L97.5,128Z"/>
<path class="k7" d="M97.5,102 L114,102 L118,112 L112,122 L97.5,122Z"/>
<path class="k10" d="M160,100 L174.1,100 L174.1,134 L162,138Z"/>
<ellipse class="k9" cx="150" cy="108" rx="14" ry="15"/>
<ellipse class="k8" cx="151" cy="108" rx="11" ry="12"/>
<ellipse class="k7" cx="153" cy="109" rx="6" ry="8"/>
<ellipse class="k6" cx="154" cy="109" rx="3" ry="5"/>
<ellipse class="k13" cx="128" cy="135" rx="6" ry="10"/>
<ellipse class="k14" cx="128" cy="136" rx="3" ry="6"/>
<ellipse class="k13" cx="112" cy="140" rx="7" ry="3"/>
<path class="k9" d="M97.5,128 L110,131 L118,143 L97.5,143Z"/>
</g>
<use href="#sC3"/>
<g class="c">
<path class="k8" d="M231.5,27 L321.5,27 L321.5,88 L305,84 L290,72 L275,72 L262,82 L248,76 L243,55 L231.5,50Z"/>
<path class="k7" d="M231.5,27 L321.5,27 L321.5,76 L305,68 L290,68 L270,74 L255,74 L245,58 L231.5,46Z"/>
<rect class="k6" x="231.5" y="27" width="90" height="11"/>
<ellipse class="k5" cx="240" cy="40" rx="7" ry="15"/>
<ellipse class="k5" cx="261" cy="48" rx="8" ry="21"/>
<ellipse class="k5" cx="288" cy="46" rx="8" ry="19"/>
<ellipse class="k5" cx="311" cy="41" rx="8" ry="14"/>
<ellipse class="k4" cx="261" cy="42" rx="3" ry="10"/>
<ellipse class="k4" cx="288" cy="40" rx="3" ry="9"/>
<ellipse class="k12" cx="237" cy="73" rx="10" ry="20"/>
<ellipse class="k13" cx="236" cy="72" rx="8" ry="16"/>
<ellipse class="k14" cx="235" cy="72" rx="6" ry="12"/>
<ellipse class="k15" cx="235" cy="72" rx="4.5" ry="9"/>
<ellipse class="k12" cx="255" cy="92" rx="10" ry="11"/>
<ellipse class="k13" cx="255" cy="92" rx="7.5" ry="8.5"/>
<ellipse class="k14" cx="255" cy="93" rx="3.5" ry="4"/>
<ellipse class="k12" cx="290" cy="90" rx="13" ry="19"/>
<ellipse class="k13" cx="290" cy="90" rx="10" ry="15"/>
<ellipse class="k14" cx="289" cy="94" rx="4" ry="4"/>
<path class="k9" d="M231.5,100 L250,102 L262,112 L262,130 L248,140 L231.5,140Z"/>
<ellipse class="k8" cx="243" cy="121" rx="13" ry="14"/>
<ellipse class="k7" cx="250" cy="122" rx="2" ry="3"/>
<ellipse class="k9" cx="300" cy="120" rx="17" ry="12"/>
<ellipse class="k8" cx="300" cy="120" rx="11" ry="8"/>
<ellipse class="k7" cx="300" cy="120" rx="1.5" ry="1.5"/>
<ellipse class="k12" cx="280" cy="139" rx="9" ry="11"/>
<ellipse class="k13" cx="280" cy="140" rx="6" ry="8"/>
<ellipse class="k14" cx="281" cy="142" rx="2.5" ry="3"/>
<ellipse class="k13" cx="313" cy="141" rx="6" ry="12"/>
<ellipse class="k14" cx="314" cy="141" rx="4.5" ry="9"/>
<ellipse class="k15" cx="315" cy="141" rx="3" ry="6"/>
<rect class="kb" x="225" y="60" width="6" height="28" rx="2"/>
<rect class="kb" x="318" y="128" width="9" height="36" rx="3"/>
</g>
</g>
<use href="#ax"/>
<use href="#cb" x="365" y="27.5"/>
<text class="t" x="201.5" y="20" text-anchor="middle" textLength="184" lengthAdjust="spacingAndGlyphs">Inverted Winds Zonal (warmside)</text>
<text class="t" x="63" y="32.7" text-anchor="end" textLength="18" lengthAdjust="spacingAndGlyphs">120</text>
<text class="t" x="63" y="61.7" text-anchor="end" textLength="18" lengthAdjust="spacingAndGlyphs">110</text>
<text class="t" x="63" y="93" text-anchor="end" textLength="18" lengthAdjust="spacingAndGlyphs">100</text>
<text class="t" x="63" y="124.5" text-anchor="end" textLength="12" lengthAdjust="spacingAndGlyphs">90</text>
<text class="t" x="63" y="156" text-anchor="end" textLength="12" lengthAdjust="spacingAndGlyphs">80</text>
<text class="t" x="63" y="187.3" text-anchor="end" textLength="12" lengthAdjust="spacingAndGlyphs">70</text>
<text class="t" x="63" y="215" text-anchor="end" textLength="12" lengthAdjust="spacingAndGlyphs">60</text>
<text class="t" x="67.5" y="230" text-anchor="middle" textLength="19" lengthAdjust="spacingAndGlyphs">-90</text>
<text class="t" x="134.5" y="230" text-anchor="middle">0</text>
<text class="t" x="201.5" y="230" text-anchor="middle" textLength="12" lengthAdjust="spacingAndGlyphs">90</text>
<text class="t" x="268" y="230" text-anchor="middle">0</text>
<text class="t" x="336" y="230" text-anchor="middle" textLength="19" lengthAdjust="spacingAndGlyphs">-90</text>
<text class="t" x="201.3" y="242.5" text-anchor="middle" textLength="54" lengthAdjust="spacingAndGlyphs">Lat (deg)</text>
<text class="t" x="37" y="55" text-anchor="middle">A</text><text class="t" x="37" y="64.9" text-anchor="middle">l</text><text class="t" x="37" y="74.7" text-anchor="middle">t</text><text class="t" x="37" y="84.6" text-anchor="middle">i</text><text class="t" x="37" y="94.4" text-anchor="middle">t</text><text class="t" x="37" y="104.3" text-anchor="middle">u</text><text class="t" x="37" y="114.2" text-anchor="middle">d</text><text class="t" x="37" y="124" text-anchor="middle">e</text><text class="t" x="37" y="143.7" text-anchor="middle">(</text><text class="t" x="37" y="153.6" text-anchor="middle">k</text><text class="t" x="37" y="163.5" text-anchor="middle">m</text><text class="t" x="37" y="173.3" text-anchor="middle">)</text>
<text class="t" x="434" y="29" text-anchor="end" textLength="30" lengthAdjust="spacingAndGlyphs">200.0</text>
<text class="t" x="434" y="52.5" text-anchor="end" textLength="30" lengthAdjust="spacingAndGlyphs">150.0</text>
<text class="t" x="434" y="76" text-anchor="end" textLength="30" lengthAdjust="spacingAndGlyphs">100.0</text>
<text class="t" x="434" y="99.6" text-anchor="end" textLength="24" lengthAdjust="spacingAndGlyphs">50.0</text>
<text class="t" x="434" y="123.1" text-anchor="end" textLength="18" lengthAdjust="spacingAndGlyphs">0.0</text>
<text class="t" x="434" y="146.6" text-anchor="end" textLength="30" lengthAdjust="spacingAndGlyphs">-50.0</text>
<text class="t" x="434" y="170.2" text-anchor="end" textLength="36" lengthAdjust="spacingAndGlyphs">-100.0</text>
<text class="t" x="434" y="193.7" text-anchor="end" textLength="36" lengthAdjust="spacingAndGlyphs">-150.0</text>
<text class="t" x="434" y="217.2" text-anchor="end" textLength="36" lengthAdjust="spacingAndGlyphs">-200.0</text>
</g>

<text class="t" x="681" y="524" text-anchor="middle" textLength="208" lengthAdjust="spacingAndGlyphs">2010065v01 Wed Aug 10 09:01:36 2016</text>
</svg>
</body></html>
